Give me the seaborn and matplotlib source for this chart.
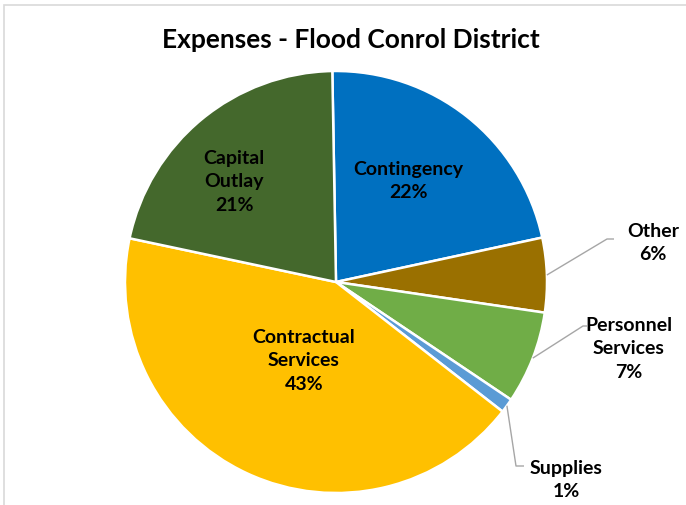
import matplotlib.pyplot as plt
import seaborn as sns
import numpy as np
from matplotlib.patches import Rectangle

# Data
categories = ["Contingency", "Other", "Personnel\nServices", "Supplies",
              "Contractual\nServices", "Capital\nOutlay"]
shares = [21.9, 5.7, 7.1, 1.1, 42.8, 21.4]
colors = ["#0070C0", "#9A7000", "#70AD47", "#5B9BD5", "#FFC000", "#44682C"]

sns.set_theme(style="white")
plt.rcParams["font.family"] = ["Lato", "DejaVu Sans"]

fig = plt.figure(figsize=(6.86, 5.06), dpi=100)
ax = fig.add_axes([0, 0, 1, 1])
ax.set_xlim(0, 686)
ax.set_ylim(0, 506)
ax.set_aspect("equal")
ax.axis("off")

# chart area border
fig.patches.append(Rectangle((4 / 686, -0.01), 1.05, 1 - 5.5 / 506 + 0.01,
                             transform=fig.transFigure, fill=False,
                             edgecolor="#D9D9D9", linewidth=1.2))

cx, cy, r = 336, 506 - 283, 211
wedges, _ = ax.pie(shares, colors=colors, startangle=91, counterclock=False,
                   center=(cx, cy), radius=r,
                   wedgeprops=dict(edgecolor="white", linewidth=1.8))
ax.set_xlim(0, 686)
ax.set_ylim(0, 506)

# label placement (pixel coords from the top) and leader elbows
label_pos = {
    "Contingency": (408, 181, None),
    "Other": (653, 243, (607, 240, 614)),
    "Personnel\nServices": (629, 349, (583, 327, 587)),
    "Supplies": (566, 480, (516, 467, 524)),
    "Contractual\nServices": (304, 361, None),
    "Capital\nOutlay": (234, 182, None),
}

for w, cat, val in zip(wedges, categories, shares):
    x, y, leader = label_pos[cat]
    ax.text(x, 506 - y, f"{cat}\n{round(val):.0f}%", ha="center", va="center",
            fontsize=14, fontweight="bold", color="black", linespacing=1.45)
    if leader is not None:
        mid = np.deg2rad((w.theta1 + w.theta2) / 2)
        sx, sy = cx + r * np.cos(mid), cy + r * np.sin(mid)
        ex, ey, hx = leader
        ax.plot([sx, ex, hx], [sy, 506 - ey, 506 - ey], color="#A6A6A6",
                linewidth=1.0, solid_capstyle="butt")

ax.text(351, 506 - 40, "Expenses - Flood Conrol District", ha="center",
        va="center", fontsize=19, fontweight="bold", color="black")

fig.savefig("out.png", dpi=100)
